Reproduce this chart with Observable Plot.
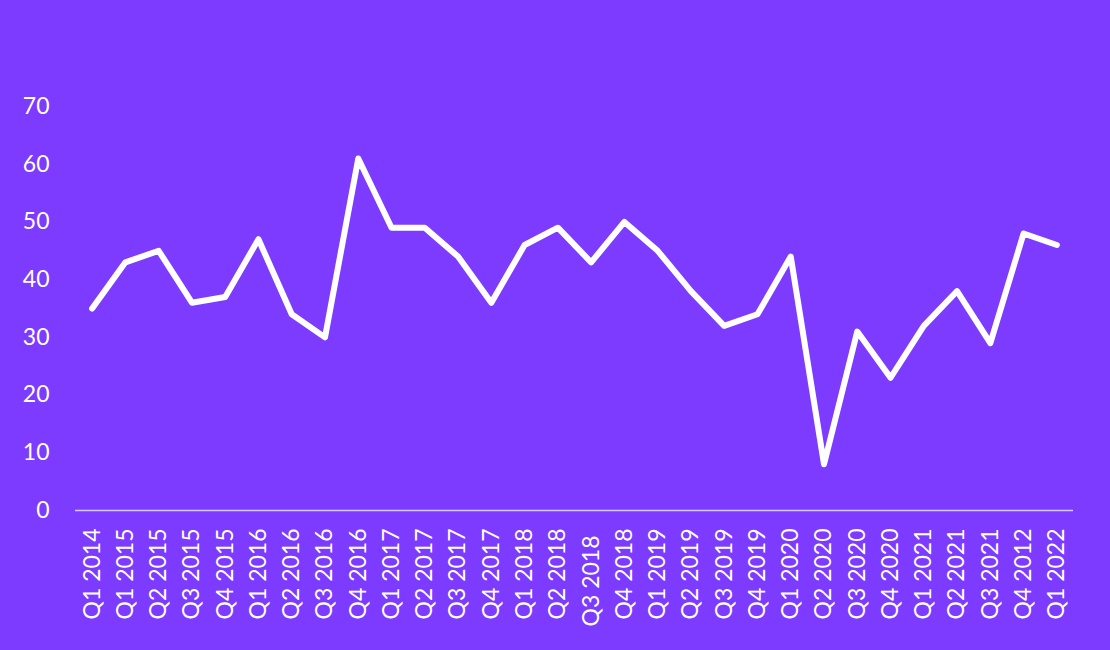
<!DOCTYPE html>
<html>
<head>
<meta charset="utf-8">
<script src="https://cdn.jsdelivr.net/npm/d3@7"></script>
<script src="https://cdn.jsdelivr.net/npm/@observablehq/plot@0.6"></script>
<style>
  html, body { margin: 0; padding: 0; background: #7c3bff; }
  #chart { width: 1110px; height: 650px; }
</style>
</head>
<body>
<div id="chart"></div>
<script>
const quarters = ["Q1 2014","Q1 2015","Q2 2015","Q3 2015","Q4 2015","Q1 2016","Q2 2016","Q3 2016","Q4 2016","Q1 2017","Q2 2017","Q3 2017","Q4 2017","Q1 2018","Q2 2018","Q3 2018","Q4 2018","Q1 2019","Q2 2019","Q3 2019","Q4 2019","Q1 2020","Q2 2020","Q3 2020","Q4 2020","Q1 2021","Q2 2021","Q3 2021","Q4 2012","Q1 2022"];
const values = [35,43,45,36,37,47,34,30,61,49,49,44,36,46,49,43,50,45,38,32,34,44,8,31,23,32,38,29,48,46];
const yTicks = [0,10,20,30,40,50,60,70];
const shiftedLabel = "Q3 2018";

const data = quarters.map((q, i) => ({q, v: values[i]}));

const chart = Plot.plot({
  width: 1110,
  height: 650,
  marginLeft: 75,
  marginRight: 37,
  marginTop: 106,
  marginBottom: 140,
  style: {background: "#7c3bff", color: "#ffffff", fontFamily: "Lato, 'Open Sans', sans-serif", fontSize: "23px"},
  x: {type: "point", domain: quarters, padding: 0.5, round: false, label: null},
  y: {domain: [0, 70], ticks: yTicks, label: null},
  marks: [
    Plot.axisY({ticks: yTicks, tickSize: 0, tickPadding: 26, label: null, fontSize: 23}),
    Plot.axisX({ticks: quarters.filter(q => q !== shiftedLabel), tickRotate: -90, tickSize: 0, tickPadding: 18, label: null, fontSize: 23}),
    Plot.axisX({ticks: [shiftedLabel], tickRotate: -90, tickSize: 0, tickPadding: 25, label: null, fontSize: 23}),
    Plot.ruleY([0], {stroke: "#d9c9ff", strokeWidth: 1.5}),
    Plot.line(data, {x: "q", y: "v", stroke: "white", strokeWidth: 6, strokeLinecap: "round", strokeLinejoin: "round"})
  ]
});
document.getElementById("chart").appendChild(chart);
</script>
</body>
</html>
